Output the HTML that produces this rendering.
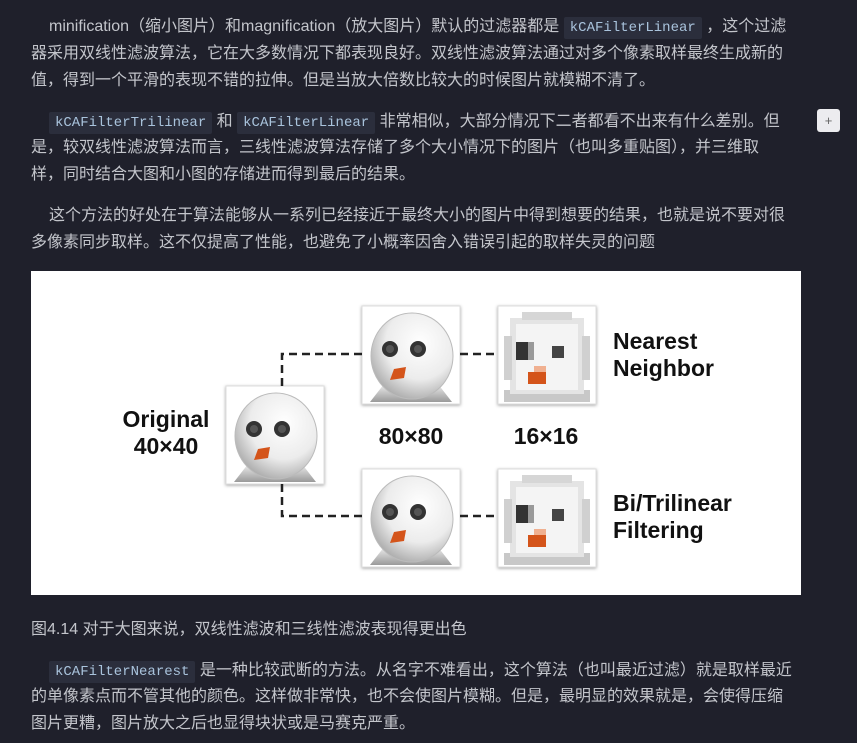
<!DOCTYPE html>
<html><head><meta charset="utf-8"><style>
html,body{margin:0;padding:0;background:#1f202b;}
body{width:857px;height:743px;position:relative;overflow:hidden;font-family:"Liberation Sans","Noto Sans CJK SC",sans-serif;color:#c3c5cb;font-size:16px;}
.l{position:absolute;left:31px;white-space:nowrap;line-height:20px;height:20px;}
.i{left:49px;}
code{font-family:"Liberation Mono","Noto Sans CJK SC",monospace;font-size:14px;background:#2b2e3c;color:#a9c3dc;padding:3px 6px;border-radius:2px;}
.plus{position:absolute;left:817px;top:109px;width:23px;height:23px;background:#ececef;border-radius:3px;color:#666;font-size:13px;text-align:center;line-height:23px;}
.fig{position:absolute;left:31px;top:271px;width:770px;height:324px;background:#fff;}
</style></head><body>
<div class="l i" style="top:17px">minification（缩小图片）和magnification（放大图片）默认的过滤器都是 <code>kCAFilterLinear</code> ，这个过滤</div>
<div class="l" style="top:44px">器采用双线性滤波算法，它在大多数情况下都表现良好。双线性滤波算法通过对多个像素取样最终生成新的</div>
<div class="l" style="top:71px">值，得到一个平滑的表现不错的拉伸。但是当放大倍数比较大的时候图片就模糊不清了。</div>
<div class="l i" style="top:112px"><code>kCAFilterTrilinear</code> 和 <code>kCAFilterLinear</code> 非常相似，大部分情况下二者都看不出来有什么差别。但</div>
<div class="l" style="top:138px">是，较双线性滤波算法而言，三线性滤波算法存储了多个大小情况下的图片（也叫多重贴图），并三维取</div>
<div class="l" style="top:165px">样，同时结合大图和小图的存储进而得到最后的结果。</div>
<div class="plus">+</div>
<div class="l i" style="top:206px">这个方法的好处在于算法能够从一系列已经接近于最终大小的图片中得到想要的结果，也就是说不要对很</div>
<div class="l" style="top:233px">多像素同步取样。这不仅提高了性能，也避免了小概率因舍入错误引起的取样失灵的问题</div>

<div class="fig">
<svg width="770" height="324" viewBox="31 271 770 324" xmlns="http://www.w3.org/2000/svg">
<defs>
<radialGradient id="hg" cx="0.6" cy="0.35" r="0.7">
<stop offset="0" stop-color="#ffffff"/><stop offset="0.6" stop-color="#ececec"/><stop offset="1" stop-color="#a8a8a8"/>
</radialGradient>
<linearGradient id="bg" x1="0" y1="0" x2="0" y2="1"><stop offset="0" stop-color="#eee"/><stop offset="1" stop-color="#9a9a9a"/></linearGradient>
<filter id="sh" x="-10%" y="-10%" width="120%" height="120%"><feDropShadow dx="0" dy="1" stdDeviation="1.5" flood-color="#000" flood-opacity="0.35"/></filter>
<g id="sm">
<rect x="0" y="0" width="98" height="98" fill="#fff" stroke="#ddd" filter="url(#sh)"/>
<path d="M8 96 L22 78 L76 78 L90 96 Z" fill="url(#bg)"/>
<ellipse cx="50" cy="50" rx="41" ry="43" fill="url(#hg)" stroke="#bbb" stroke-width="1"/>
<circle cx="28" cy="43" r="8" fill="#333"/><circle cx="28" cy="43" r="4" fill="#555"/>
<circle cx="56" cy="43" r="8" fill="#333"/><circle cx="56" cy="43" r="4" fill="#555"/>
<path d="M28 74 L32 63 L44 61 L42 72 Z" fill="#d4541a"/>
</g>
<g id="px">
<rect x="0" y="0" width="98" height="98" fill="#fff" stroke="#ddd" filter="url(#sh)"/>
<rect x="6" y="84" width="86" height="12" fill="#c8c8c8"/>
<rect x="12" y="12" width="74" height="76" fill="#e4e4e4"/>
<rect x="24" y="6" width="50" height="8" fill="#d6d6d6"/>
<rect x="18" y="18" width="62" height="66" fill="#f4f4f4"/>
<rect x="6" y="30" width="8" height="44" fill="#d0d0d0"/>
<rect x="84" y="30" width="8" height="44" fill="#d0d0d0"/>
<rect x="18" y="36" width="12" height="18" fill="#333"/>
<rect x="30" y="36" width="6" height="18" fill="#999"/>
<rect x="54" y="40" width="12" height="12" fill="#444"/>
<rect x="30" y="66" width="18" height="12" fill="#d4541a"/>
<rect x="36" y="60" width="12" height="6" fill="#f0b090"/>
</g>
</defs>
<use href="#sm" x="226" y="386"/>
<use href="#sm" x="362" y="306"/>
<use href="#px" x="498" y="306"/>
<use href="#sm" x="362" y="469"/>
<use href="#px" x="498" y="469"/>
<g stroke="#222" stroke-width="2.5" stroke-dasharray="8,5" fill="none">
<path d="M282 386 L282 354 L362 354"/>
<path d="M460 354 L498 354"/>
<path d="M282 484 L282 516 L362 516"/>
<path d="M460 516 L498 516"/>
</g>
<g font-family="Liberation Sans,sans-serif" font-weight="bold" font-size="23" fill="#111">
<text x="166" y="427" text-anchor="middle">Original</text>
<text x="166" y="454" text-anchor="middle">40×40</text>
<text x="411" y="444" text-anchor="middle">80×80</text>
<text x="546" y="444" text-anchor="middle">16×16</text>
<text x="613" y="349">Nearest</text>
<text x="613" y="376">Neighbor</text>
<text x="613" y="511">Bi/Trilinear</text>
<text x="613" y="538">Filtering</text>
</g>
</svg>
</div>

<div class="l" style="top:620px;font-size:16px">图4.14 对于大图来说，双线性滤波和三线性滤波表现得更出色</div>
<div class="l i" style="top:661px"><code>kCAFilterNearest</code> 是一种比较武断的方法。从名字不难看出，这个算法（也叫最近过滤）就是取样最近</div>
<div class="l" style="top:687px">的单像素点而不管其他的颜色。这样做非常快，也不会使图片模糊。但是，最明显的效果就是，会使得压缩</div>
<div class="l" style="top:714px">图片更糟，图片放大之后也显得块状或是马赛克严重。</div>
</body></html>
